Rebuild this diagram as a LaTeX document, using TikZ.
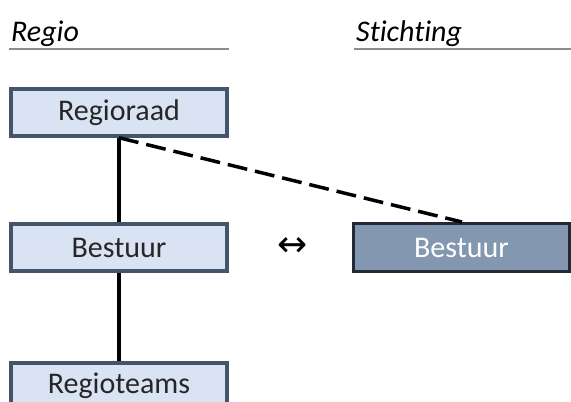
\documentclass[tikz,border=0pt]{standalone}
\usepackage{fontspec}
\setmainfont[Ligatures=NoCommon]{Carlito}
\newfontfamily\symfont{DejaVu Sans}
\definecolor{lightfill}{HTML}{DAE3F3}
\definecolor{lightborder}{HTML}{44546A}
\definecolor{darkfill}{HTML}{8497B0}
\definecolor{darkborder}{HTML}{222A35}
\definecolor{rulegray}{HTML}{8C8C8C}
\begin{document}
\begin{tikzpicture}[x=1pt,y=-1pt,
  orgbox/.style={draw=lightborder,fill=lightfill,line width=3.5pt,minimum width=216pt,minimum height=47pt,inner sep=0pt,font=\fontsize{30}{34}\selectfont,text=black!85},
  darkbox/.style={draw=darkborder,fill=darkfill,line width=3.5pt,minimum width=216pt,minimum height=48pt,inner sep=0pt,font=\fontsize{30}{34}\selectfont,text=white},
  header/.style={anchor=base west,font=\fontsize{30}{34}\selectfont\itshape,inner sep=0pt},
  hrule/.style={draw=rulegray,line width=2.5pt},
  link/.style={line width=4pt,black},
  dlink/.style={line width=3.5pt,black,dash pattern=on 20pt off 8pt}]
\useasboundingbox (0,0) rectangle (571,402);
\node[header] (hr) at (11,41) {Regio};
\node[header] (hs) at (356,41) {Stichting};
\coordinate (r1a) at (9,49); \coordinate (r1b) at (229,49);
\coordinate (r2a) at (354,49); \coordinate (r2b) at (571,49);
\draw[hrule] (r1a) -- (r1b);
\draw[hrule] (r2a) -- (r2b);
\node[orgbox] (raad) at (119,112.5) {Regioraad};
\node[orgbox] (best) at (119,247.5) {Bestuur};
\node[orgbox,anchor=north] (teams) at (119,361) {Regioteams};
\node[darkbox] (sbest) at (461.5,247.5) {Bestuur};
\node[font=\symfont\fontsize{36}{40}\selectfont] (arr) at (293,247) {↔};
\coordinate (top) at (462,222);
\draw[link] (raad.south) -- (best.north);
\draw[link] (best.south) -- (teams.north);
\draw[dlink] (raad.south) -- (top);
\end{tikzpicture}
\end{document}
